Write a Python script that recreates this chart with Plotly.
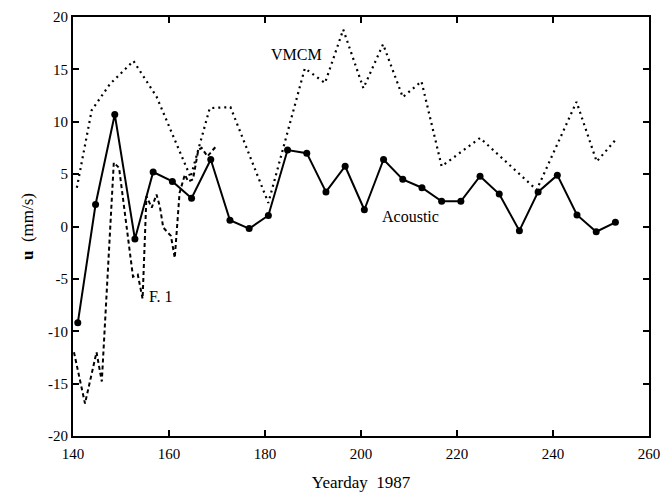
import plotly.graph_objects as go

# Acoustic (solid with dots)
acoustic_day = [141.0, 144.7, 148.7, 152.9, 156.7, 160.7, 164.7, 168.7, 172.7, 176.7,
                180.7, 184.7, 188.7, 192.7, 196.7, 200.7, 204.7, 208.7, 212.7, 216.8,
                220.8, 224.8, 228.8, 233.0, 236.9, 240.9, 245.0, 249.0, 253.0]
acoustic_u = [-9.2, 2.1, 10.7, -1.2, 5.2, 4.3, 2.7, 6.4, 0.6, -0.2,
              1.05, 7.3, 7.0, 3.3, 5.75, 1.6, 6.4, 4.5, 3.7, 2.4,
              2.4, 4.8, 3.1, -0.4, 3.3, 4.9, 1.1, -0.5, 0.4]

# VMCM (dotted)
vmcm_day = [140.8, 143.9, 147.7, 152.6, 157.4, 164.5, 168.5, 172.8, 180.7, 188.3,
            192.5, 196.3, 200.5, 204.6, 208.7, 212.6, 216.8, 224.8, 236.6, 244.9,
            249.1, 253.1]
vmcm_u = [3.7, 11.1, 13.6, 15.8, 12.4, 4.7, 11.3, 11.4, 2.25, 15.1,
          13.7, 18.8, 13.2, 17.4, 12.35, 13.85, 5.75, 8.45, 3.5, 11.9,
          6.2, 8.3]

# F1 (dashed)
f1_day = [140.2, 142.5, 144.9, 146.0, 148.5, 149.6, 152.5, 153.5, 154.5, 155.3,
          156.4, 157.4, 158.1, 158.8, 160.4, 161.2, 162.2, 163.3, 164.0, 165.0,
          166.1, 166.8, 168.0, 169.9]
f1_u = [-12.0, -16.9, -12.0, -14.8, 6.1, 5.6, -4.8, -4.6, -6.9, 2.9,
        1.8, 3.05, 1.9, -0.1, -0.9, -3.0, 3.2, 4.95, 4.3, 4.5,
        7.3, 7.5, 6.7, 7.7]

x_ticks = [140, 160, 180, 200, 220, 240, 260]
y_ticks = [-20, -15, -10, -5, 0, 5, 10, 15, 20]
y_ticktext = ["-20", "-15", "-10", "-5", "0", "5", "10", "15", "20"]

labels = [("VMCM", 186.5, 16.4), ("Acoustic", 210.4, 0.95), ("F. 1", 158.3, -6.7)]

FONT = "Liberation Serif, Times New Roman, serif"

fig = go.Figure()
fig.add_trace(go.Scatter(x=vmcm_day, y=vmcm_u, mode="lines",
                         line=dict(color="black", width=2.2, dash="2px,4px"),
                         showlegend=False))
fig.add_trace(go.Scatter(x=f1_day, y=f1_u, mode="lines",
                         line=dict(color="black", width=2, dash="4px,3px"),
                         showlegend=False))
fig.add_trace(go.Scatter(x=acoustic_day, y=acoustic_u, mode="lines+markers",
                         line=dict(color="black", width=2),
                         marker=dict(color="black", size=7),
                         showlegend=False))

for text, xx, yy in labels:
    fig.add_annotation(x=xx, y=yy, text=text, showarrow=False,
                       font=dict(family=FONT, size=16, color="black"))

fig.update_xaxes(range=[140, 260], tickvals=x_ticks, ticks="inside", ticklen=6,
                 tickwidth=1.5, tickcolor="black", showline=True, linewidth=2,
                 linecolor="black", mirror="ticks", showgrid=False, zeroline=False,
                 ticklabelstandoff=3, automargin=False,
                 tickfont=dict(family=FONT, size=15, color="black"),
                 title=dict(text="Yearday  1987", font=dict(family=FONT, size=17, color="black"),
                            standoff=16))
fig.update_yaxes(range=[-20, 20], tickvals=y_ticks, ticktext=y_ticktext, ticks="inside",
                 ticklen=6, tickwidth=1.5, tickcolor="black", showline=True, linewidth=2,
                 linecolor="black", mirror="ticks", showgrid=False, zeroline=False,
                 automargin=False,
                 tickfont=dict(family=FONT, size=15, color="black"),
                 title=dict(text="<b>u</b>  (mm/s)", font=dict(family=FONT, size=17, color="black"),
                            standoff=10))

fig.update_layout(width=663, height=492, margin=dict(l=73, r=14, t=17, b=56),
                  plot_bgcolor="white", paper_bgcolor="white")

fig.write_html("out.html")
